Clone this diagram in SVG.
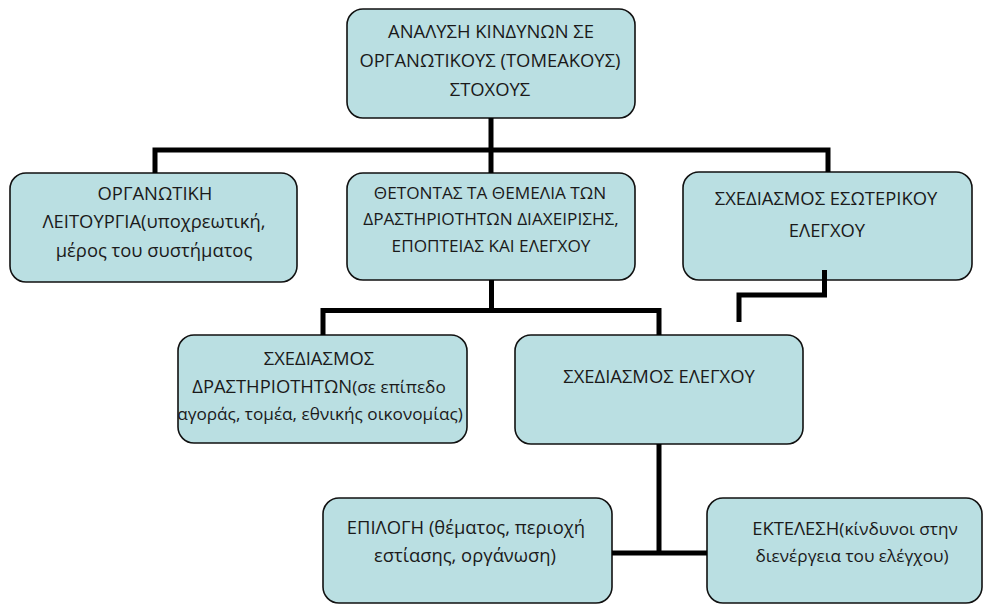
<svg xmlns="http://www.w3.org/2000/svg" width="984" height="605" viewBox="0 0 984 605">
  <style>
    .box { fill: #badfe2; stroke: #111; stroke-width: 1.6; }
    .t { font-family: "Open Sans", "Noto Sans", "DejaVu Sans", sans-serif; font-size: 18.4px; fill: #1a1a1a; text-anchor: middle; }
    .s { font-size: 17.2px; }
    .c { fill: none; stroke: #000; stroke-width: 5; stroke-linejoin: miter; stroke-linecap: butt; }
  </style>
  <rect width="984" height="605" fill="#fff"/>

  <g id="n-top">
    <rect class="box" x="347" y="9" width="288" height="109" rx="16"/>
    <text class="t" x="491" y="38">ΑΝΑΛΥΣΗ ΚΙΝΔΥΝΩΝ ΣΕ</text>
    <text class="t" x="490" y="67">ΟΡΓΑΝΩΤΙΚΟΥΣ (ΤΟΜΕΑΚΟΥΣ)</text>
    <text class="t" x="490" y="96">ΣΤΟΧΟΥΣ</text>
  </g>

  <g id="n-organotiki">
    <rect class="box" x="10" y="173" width="287" height="109" rx="16"/>
    <text class="t" x="155" y="200">ΟΡΓΑΝΩΤΙΚΗ</text>
    <text class="t" x="154" y="228">ΛΕΙΤΟΥΡΓΙΑ(υποχρεωτική,</text>
    <text class="t" x="154" y="257">μέρος του συστήματος</text>
  </g>

  <g id="n-themelia">
    <rect class="box" x="347" y="173" width="288" height="107" rx="16"/>
    <text class="t s" x="490" y="199">ΘΕΤΟΝΤΑΣ ΤΑ ΘΕΜΕΛΙΑ ΤΩΝ</text>
    <text class="t s" x="491" y="225">ΔΡΑΣΤΗΡΙΟΤΗΤΩΝ ΔΙΑΧΕΙΡΙΣΗΣ,</text>
    <text class="t s" x="491" y="252">ΕΠΟΠΤΕΙΑΣ ΚΑΙ ΕΛΕΓΧΟΥ</text>
  </g>

  <g id="n-esoterikos">
    <rect class="box" x="683" y="172" width="289" height="108" rx="16"/>
    <text class="t" x="826" y="205">ΣΧΕΔΙΑΣΜΟΣ ΕΣΩΤΕΡΙΚΟΥ</text>
    <text class="t" x="827" y="237">ΕΛΕΓΧΟΥ</text>
  </g>

  <g id="n-drastiriotites">
    <rect class="box" x="178" y="335" width="289" height="108" rx="16"/>
    <text class="t" x="319" y="365">ΣΧΕΔΙΑΣΜΟΣ</text>
    <text class="t" x="319" y="393">ΔΡΑΣΤΗΡΙΟΤΗΤΩΝ<tspan class="s">(σε επίπεδο</tspan></text>
    <text class="t s" x="320" y="420">αγοράς, τομέα, εθνικής οικονομίας)</text>
  </g>

  <g id="n-elegxos">
    <rect class="box" x="515" y="335" width="288" height="109" rx="16"/>
    <text class="t" x="659" y="383">ΣΧΕΔΙΑΣΜΟΣ ΕΛΕΓΧΟΥ</text>
  </g>

  <g id="n-epilogi">
    <rect class="box" x="323" y="498" width="289" height="105" rx="16"/>
    <text class="t" x="466" y="534">ΕΠΙΛΟΓΗ (θέματος, περιοχή</text>
    <text class="t" x="465" y="562">εστίασης, οργάνωση)</text>
  </g>

  <g id="n-ektelesi">
    <rect class="box" x="707" y="498" width="275" height="105" rx="16"/>
    <text class="t" x="855" y="535">ΕΚΤΕΛΕΣΗ<tspan class="s">(κίνδυνοι στην</tspan></text>
    <text class="t s" x="852" y="562">διενέργεια του ελέγχου)</text>
  </g>

  <g id="connectors">
    <path class="c" d="M491 118 V173"/>
    <path class="c" d="M155 173 V150 H828 V172"/>
    <path class="c" d="M491.5 280 V310.5"/>
    <path class="c" d="M323 335 V310.5 H659 V335"/>
    <path class="c" d="M824.5 270 V295 H739 V322"/>
    <path class="c" d="M659 444 V553"/>
    <path class="c" d="M612 553 H707"/>
  </g>
</svg>
